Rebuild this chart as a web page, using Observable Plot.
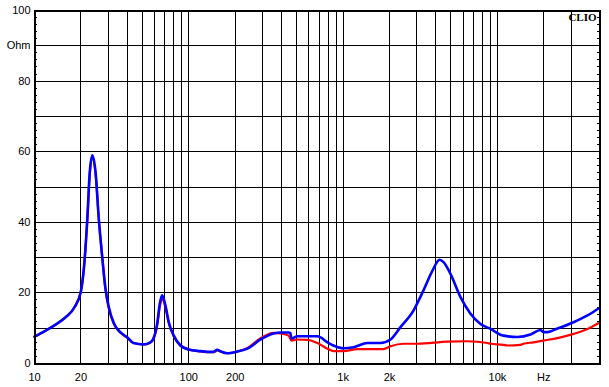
<!DOCTYPE html>
<html>
<head>
<meta charset="utf-8">
<script src="https://cdn.jsdelivr.net/npm/d3@7"></script>
<script src="https://cdn.jsdelivr.net/npm/@observablehq/plot@0.6"></script>
<style>
  html, body { margin: 0; padding: 0; background: #fff; }
  #chart { width: 609px; height: 387px; }
</style>
</head>
<body>
<div id="chart"></div>
<script>
// Blue curve (frequency Hz, impedance Ohm)
const blueFreq = [10, 11.8, 13.7, 15.9, 18.2, 20, 20.9, 22, 22.8, 23.7, 24.9, 26.1, 27.5, 28.8, 30.3, 32.7, 36.1, 39.9, 43.8, 50.9, 56, 59, 62.4, 64.9, 67.2, 70.6, 74.2, 79.9, 88.4, 99.5, 119, 132, 145, 153, 160, 178, 207, 240, 292, 354, 393, 443, 455, 463, 506, 682, 792, 866, 1007, 1168, 1439, 1746, 2028, 2355, 2858, 3319, 3795, 4217, 4477, 4966, 5768, 6696, 7770, 9020, 10950, 13490, 16390, 19010, 19890, 21130, 24530, 31180, 38380, 45190];
const blueZ    = [7.6, 9.3, 11.0, 13.1, 16.0, 20.5, 27, 41, 54, 59, 54, 41, 30, 21.5, 16, 11.4, 8.8, 7.4, 5.8, 5.4, 5.9, 7.1, 11.3, 17, 19.3, 16.4, 11.7, 7.9, 5.1, 4.0, 3.5, 3.3, 3.3, 3.9, 3.5, 2.9, 3.4, 4.2, 6.8, 8.5, 8.8, 8.8, 8.6, 7.1, 7.7, 7.7, 6.0, 5.1, 4.3, 4.6, 5.8, 5.8, 6.8, 10.3, 15, 20.7, 26.3, 29.4, 28.7, 25.4, 18.8, 14.1, 11.2, 9.8, 7.9, 7.5, 8.2, 9.5, 8.9, 8.9, 9.9, 11.7, 13.6, 15.6];

// Red curve
const redFreq = [10, 11.8, 13.7, 15.9, 18.2, 20, 20.9, 22, 22.8, 23.7, 24.9, 26.1, 27.5, 28.8, 30.3, 32.7, 36.1, 39.9, 43.8, 50.9, 56, 59, 62.4, 64.9, 67.2, 70.6, 74.2, 79.9, 88.4, 99.5, 119, 132, 145, 153, 160, 178, 207, 240, 292, 354, 393, 443, 463, 506, 588, 682, 792, 866, 1007, 1239, 1827, 2028, 2461, 3034, 4753, 6401, 8625, 9020, 10950, 11620, 14130, 14760, 17140, 19890, 24530, 31180, 38380, 45190];
const redZ    = [7.6, 9.3, 11.0, 13.1, 16.0, 20.5, 27, 41, 53.5, 58.4, 53.5, 41, 30, 21, 15.6, 11.2, 8.7, 7.3, 5.8, 5.4, 5.8, 6.9, 10.8, 16.2, 18.4, 15.9, 11.4, 7.7, 5.0, 4.0, 3.4, 3.2, 3.2, 3.7, 3.4, 2.9, 3.4, 4.4, 7.2, 8.7, 8.5, 7.9, 6.5, 6.8, 6.7, 5.8, 4.2, 3.5, 3.5, 4.1, 4.1, 4.9, 5.6, 5.6, 6.2, 6.3, 5.8, 5.6, 5.3, 5.1, 5.3, 5.6, 6.0, 6.5, 7.2, 8.4, 9.8, 11.4];

// Axis ticks
const xTickValues = [10, 20, 50, 100, 200, 500, 1000, 2000, 5000, 10000, 20000, 40000];
const xTickLabels = ["10", "20", "50", "100", "200", "500", "1k", "2k", "5k", "10k", "Hz", "40k"];
const yTickValues = [0, 20, 40, 60, 80, 90, 100];
const yTickLabels = ["0", "20", "40", "60", "80", "Ohm", "100"];
const xGrid = [20, 30, 40, 50, 60, 70, 80, 90, 100, 200, 300, 400, 500, 600, 700, 800, 900, 1000, 2000, 3000, 4000, 5000, 6000, 7000, 8000, 9000, 10000, 20000, 30000];
const yGrid = [10, 20, 30, 40, 50, 60, 70, 80, 90];
const yMinor = d3.range(2, 100, 2);
const xDomain = [10, 45900];
const brand = ["CLIO"];

const blue = blueFreq.map((f, i) => ({f, z: blueZ[i]}));
const red = redFreq.map((f, i) => ({f, z: redZ[i]}));

const xLab = new Map(xTickValues.map((v, i) => [v, xTickLabels[i]]));
const yLab = new Map(yTickValues.map((v, i) => [v, yTickLabels[i]]));

const chart = Plot.plot({
  width: 609,
  height: 387,
  marginLeft: 34,
  marginRight: 10,
  marginTop: 10,
  marginBottom: 24,
  style: {fontFamily: "'Liberation Sans', Arial, sans-serif", fontSize: "11px", color: "#000", background: "#fff"},
  x: {type: "log", domain: xDomain},
  y: {domain: [0, 100]},
  marks: [
    Plot.ruleX(xGrid, {stroke: "#000", strokeWidth: 1, shapeRendering: "crispEdges"}),
    Plot.ruleY(yGrid, {stroke: "#000", strokeWidth: 1, shapeRendering: "crispEdges"}),
    Plot.axisY(yMinor, {anchor: "left", tickSize: -3, text: null, stroke: "#000", label: null, shapeRendering: "crispEdges"}),
    Plot.axisY(yMinor, {anchor: "right", tickSize: -3, text: null, stroke: "#000", label: null, shapeRendering: "crispEdges"}),
    Plot.axisY(yTickValues, {anchor: "left", tickSize: 0, tickPadding: 4, tickFormat: d => yLab.get(d), label: null, fill: "#000"}),
    Plot.axisX(xTickValues, {anchor: "bottom", tickSize: 0, tickPadding: 10, tickFormat: d => xLab.get(d), label: null, fill: "#000"}),
    Plot.line(red, {x: "f", y: "z", stroke: "#ff0000", strokeWidth: 2.2, curve: "monotone-x"}),
    Plot.line(blue, {x: "f", y: "z", stroke: "#0000ff", strokeWidth: 2.6, curve: "monotone-x"}),
    Plot.frame({stroke: "#000", strokeWidth: 2, shapeRendering: "crispEdges"}),
    Plot.text(brand, {frameAnchor: "top-right", dx: -3, dy: 3, text: d => d, fontFamily: "'Liberation Serif', 'DejaVu Serif', serif", fontWeight: "bold", fontSize: 11, fill: "#000", textAnchor: "end", lineAnchor: "top"})
  ]
});
document.getElementById("chart").appendChild(chart);
</script>
</body>
</html>
